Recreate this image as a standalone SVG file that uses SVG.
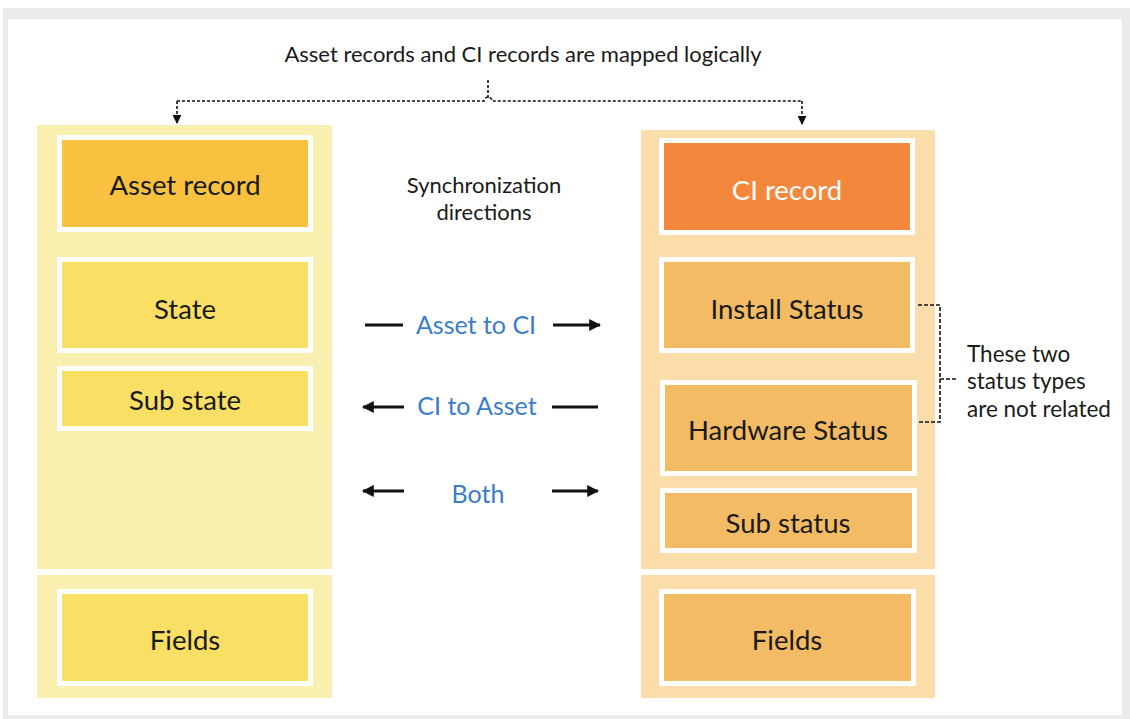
<svg xmlns="http://www.w3.org/2000/svg" width="1130" height="719" viewBox="0 0 1130 719">
<defs>
<style>
.t{font-family:Lato,"Open Sans","Liberation Sans",sans-serif;fill:#1a1a1a;text-anchor:middle}
.box{font-size:27.5px}
.ly{stroke:#fff;stroke-width:5;fill:#f9df63}
.ry{stroke:#fff;stroke-width:5;fill:#f3bb63}
.blue{fill:#3a7dc9;font-size:25px}
.dash{fill:none;stroke:#111;stroke-width:1.6;stroke-dasharray:3 2}
.arr{fill:none;stroke:#111;stroke-width:3}
.note{font-size:22.5px;text-anchor:start}
</style>
<marker id="sa" viewBox="0 0 10 10" refX="9" refY="5" markerWidth="9" markerHeight="9" markerUnits="userSpaceOnUse" orient="auto"><path d="M0,0L10,5L0,10z" fill="#111"/></marker>
<marker id="ba" viewBox="0 0 10 10" refX="9" refY="5" markerWidth="12" markerHeight="12" markerUnits="userSpaceOnUse" orient="auto"><path d="M0,0L10,5L0,10z" fill="#111"/></marker>
</defs>
<rect x="3" y="8" width="1127" height="711" fill="#ebebeb"/>
<rect x="8" y="19" width="1114" height="696" fill="#fff"/>
<g id="left-panel">
<rect x="37" y="125" width="295" height="444" fill="#f9efaf"/>
<rect x="37" y="575" width="295" height="123" fill="#f9efaf"/>
</g>
<g id="right-panel">
<rect x="641" y="130" width="294" height="439" fill="#fbdcab"/>
<rect x="641" y="575" width="294" height="123" fill="#fbdcab"/>
</g>
<g id="asset-record"><rect class="ly" x="59.5" y="137.5" width="251" height="92" style="fill:#f8c13f"/><text class="t box" x="185" y="195">Asset record</text></g>
<g id="state"><rect class="ly" x="59.5" y="259.5" width="251" height="91"/><text class="t box" x="185" y="319">State</text></g>
<g id="sub-state"><rect class="ly" x="59.5" y="368.5" width="251" height="60"/><text class="t box" x="185" y="410">Sub state</text></g>
<g id="fields-left"><rect class="ly" x="59.5" y="591.5" width="251" height="92"/><text class="t box" x="185" y="650">Fields</text></g>
<g id="ci-record"><rect class="ry" x="661.5" y="140.5" width="251" height="92" style="fill:#f3883d"/><text class="t box" x="787" y="200" style="fill:#fff">CI record</text></g>
<g id="install-status"><rect class="ry" x="661.5" y="259.5" width="251" height="91"/><text class="t box" x="787" y="319">Install Status</text></g>
<g id="hardware-status"><rect class="ry" x="662.5" y="382.5" width="252" height="91"/><text class="t box" x="788" y="440">Hardware Status</text></g>
<g id="sub-status"><rect class="ry" x="662.5" y="490.5" width="252" height="60"/><text class="t box" x="788" y="533">Sub status</text></g>
<g id="fields-right"><rect class="ry" x="661.5" y="591.5" width="252" height="92"/><text class="t box" x="787" y="650">Fields</text></g>
<g id="labels">
<text class="t" x="523" y="62" font-size="22">Asset records and CI records are mapped logically</text>
<text class="t" x="484" y="193" font-size="22">Synchronization</text>
<text class="t" x="484" y="220" font-size="22">directions</text>
<text class="t blue" x="476" y="334">Asset to CI</text>
<text class="t blue" x="477" y="415">CI to Asset</text>
<text class="t blue" x="478" y="503">Both</text>
<text class="t note" x="967" y="362">These two</text>
<text class="t note" x="967" y="389">status types</text>
<text class="t note" x="967" y="417">are not related</text>
</g>
<g id="connectors">
<path class="dash" d="M488,80V98"/>
<path class="dash" d="M177,101H484a4,4 0 0 1 8,0H802"/>
<path class="dash" d="M177,101V123" marker-end="url(#sa)"/>
<path class="dash" d="M802,101V124" marker-end="url(#sa)"/>
<path class="arr" d="M365,325H403"/>
<path class="arr" d="M553,325H600" marker-end="url(#ba)"/>
<path class="arr" d="M404,407H363" marker-end="url(#ba)"/>
<path class="arr" d="M552,407H598"/>
<path class="arr" d="M404,491H363" marker-end="url(#ba)"/>
<path class="arr" d="M552,491H598" marker-end="url(#ba)"/>
<path class="dash" d="M918,305H940V422H918M940,379H958" style="stroke-dasharray:4 2"/>
</g>
</svg>
